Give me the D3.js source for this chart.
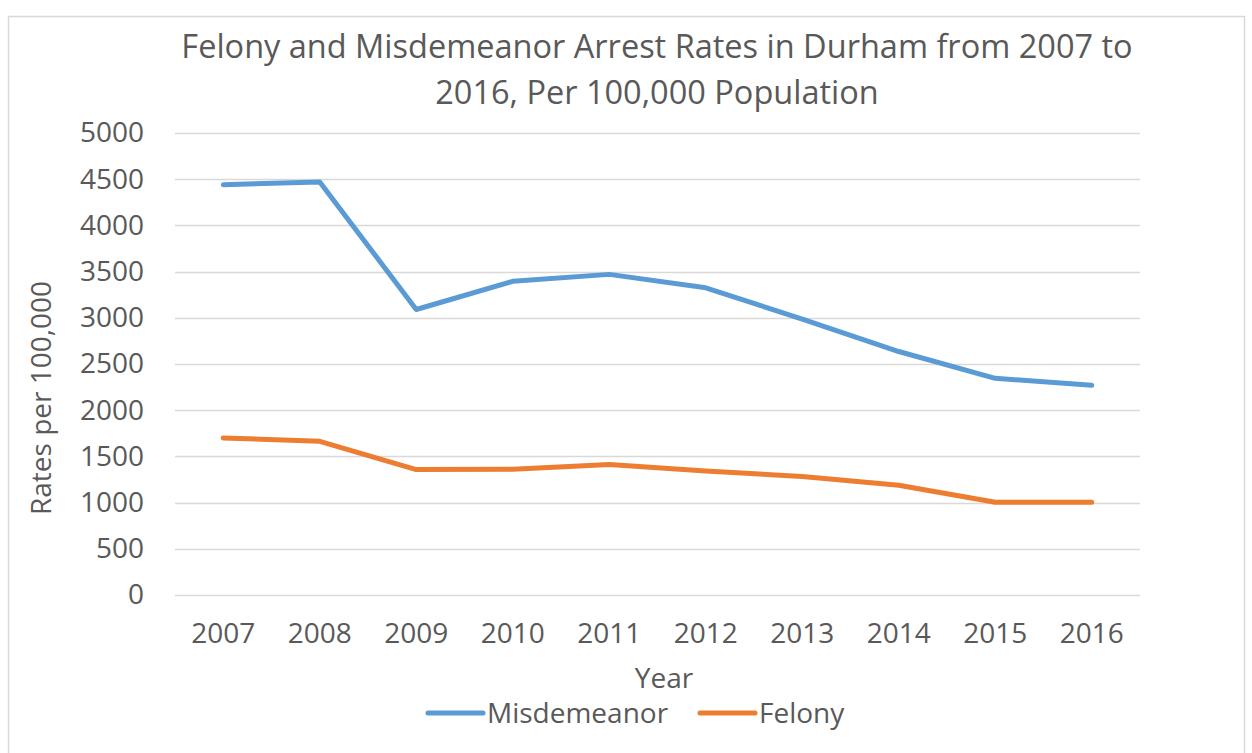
<!DOCTYPE html>
<html>
<head>
<meta charset="utf-8">
<script src="https://cdn.jsdelivr.net/npm/d3@7"></script>
<style>
  body { margin: 0; background: #fff; }
  svg { display: block; font-family: "Open Sans", sans-serif; }
</style>
</head>
<body>
<div class="chart"></div>
<script>
// Data
var years = ["2007", "2008", "2009", "2010", "2011", "2012", "2013", "2014", "2015", "2016"];
var misdemeanor = [4440, 4470, 3090, 3395, 3470, 3325, 2985, 2635, 2345, 2270];
var felony = [1700, 1663, 1357, 1360, 1412, 1342, 1282, 1188, 1003, 1003];
var yTicks = [0, 500, 1000, 1500, 2000, 2500, 3000, 3500, 4000, 4500, 5000];
var seriesNames = ["Misdemeanor", "Felony"];
var seriesColors = ["#5B9BD5", "#ED7D31"];

var width = 1252, height = 753;
var margin = {top: 133, right: 112, bottom: 158, left: 175};

var svg = d3.select('.chart')
  .append('svg')
    .attr('width', width)
    .attr('height', height);

// chart border
svg.append("rect")
  .attr("x", 8.5).attr("y", 16.5)
  .attr("width", 1236).attr("height", 760)
  .attr("fill", "none")
  .attr("stroke", "#d9d9d9")
  .attr("stroke-width", 1.5);

// Title
var title = svg.append("text")
  .attr("text-anchor", "middle")
  .style("font-size", "32.5px")
  .style("fill", "#595959");
title.append("tspan").attr("x", 657).attr("y", 58)
  .text("Felony and Misdemeanor Arrest Rates in Durham from 2007 to");
title.append("tspan").attr("x", 657).attr("y", 104)
  .text("2016, Per 100,000 Population");

// Scales
var x = d3.scaleBand()
  .domain(years)
  .range([margin.left, width - margin.right]);

var y = d3.scaleLinear()
  .domain([0, 5000])
  .range([height - margin.bottom, margin.top]);

// Gridlines
svg.append("g")
  .selectAll("line")
  .data(yTicks)
  .join("line")
    .attr("x1", margin.left)
    .attr("x2", width - margin.right)
    .attr("y1", d => Math.round(y(d)) + 0.5)
    .attr("y2", d => Math.round(y(d)) + 0.5)
    .attr("stroke", "#d9d9d9")
    .attr("stroke-width", 1.3);

// Y axis labels
var y_axis = svg.append("g")
  .attr("transform", `translate(${margin.left - 31},0)`)
  .call(d3.axisLeft(y).tickValues(yTicks).tickFormat(d3.format("d")).tickSize(0).tickPadding(0));
y_axis.select(".domain").remove();
y_axis.selectAll("text")
  .style("font-family", "Open Sans, sans-serif")
  .style("font-size", "28px")
  .style("fill", "#595959");

// X axis labels
var x_axis = svg.append("g")
  .attr("transform", `translate(0,${height - margin.bottom})`)
  .call(d3.axisBottom(x).tickSize(0).tickPadding(28));
x_axis.select(".domain").remove();
x_axis.selectAll("text")
  .style("font-family", "Open Sans, sans-serif")
  .style("font-size", "28px")
  .style("fill", "#595959");

// Axis titles
svg.append("text")
  .attr("x", 664).attr("y", 688)
  .attr("text-anchor", "middle")
  .style("font-size", "28px")
  .style("fill", "#595959")
  .text("Year");

svg.append("text")
  .attr("transform", "translate(51,398) rotate(-90)")
  .attr("text-anchor", "middle")
  .style("font-size", "28px")
  .style("fill", "#595959")
  .text("Rates per 100,000");

// Lines
var line = d3.line()
  .x((d, i) => x(years[i]) + x.bandwidth() / 2)
  .y(d => y(d));

[misdemeanor, felony].forEach(function(vals, i) {
  svg.append("path")
    .datum(vals)
    .attr("fill", "none")
    .attr("stroke", seriesColors[i])
    .attr("stroke-width", 5)
    .attr("stroke-linejoin", "round")
    .attr("stroke-linecap", "round")
    .attr("d", line);
});

// Legend
var legendX = [428, 700];
seriesNames.forEach(function(name, i) {
  var g = svg.append("g").attr("transform", `translate(${legendX[i]},713)`);
  g.append("line")
    .attr("x1", 0).attr("x2", 55)
    .attr("y1", 0).attr("y2", 0)
    .attr("stroke", seriesColors[i])
    .attr("stroke-width", 5)
    .attr("stroke-linecap", "round");
  g.append("text")
    .attr("x", 59).attr("y", 10)
    .style("font-size", "28px")
    .style("fill", "#595959")
    .text(name);
});
</script>
</body>
</html>
